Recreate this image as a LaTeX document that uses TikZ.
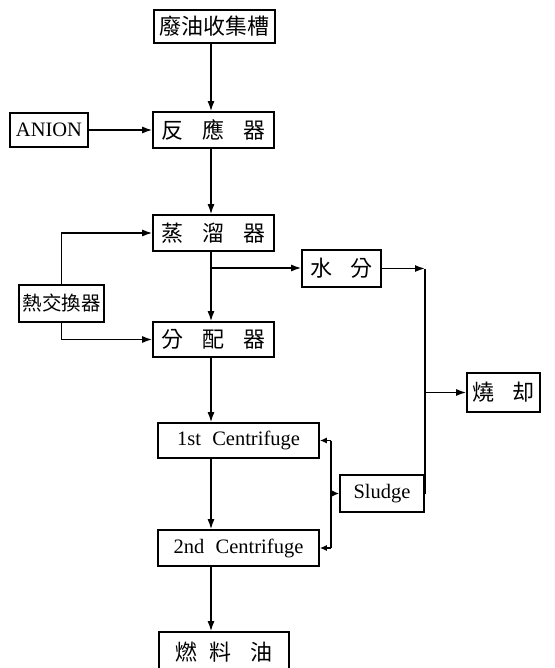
\documentclass[tikz,border=0pt]{standalone}
\usepackage{fontspec}
\setmainfont{Liberation Serif}
\newfontfamily\cjk{Noto Sans CJK TC}
\usetikzlibrary{arrows.meta}
\begin{document}
\begin{tikzpicture}[x=1pt,y=-1pt,
  box/.style={draw,line width=1.6pt,inner sep=0pt,font=\fontsize{20.5}{20.5}\selectfont},
  cj/.style={box,font=\cjk\fontsize{22}{22}\selectfont},
  conn/.style={line width=1.5pt},
  arr/.style={conn,-{Latex[length=10pt,width=7pt]}},
  sarr/.style={conn,-{Latex[length=7pt,width=6pt]}}]
\useasboundingbox (0,0) rectangle (554,668);
\def\sp{\hspace{0.85em}}
\node[cj,minimum width=121pt,minimum height=33pt] (waste) at (214.5,26.5) {廢油收集槽};
\node[box,minimum width=78pt,minimum height=34pt] (anion) at (49,130) {ANION};
\node[cj,minimum width=121pt,minimum height=36pt] (react) at (213.5,130) {反\sp 應\sp 器};
\node[cj,minimum width=121pt,minimum height=36pt] (dist) at (213.5,233) {蒸\sp 溜\sp 器};
\node[cj,minimum width=85pt,minimum height=37pt,font=\cjk\fontsize{19.5}{19.5}\selectfont] (heat) at (61.5,303.5) {熱交換器};
\node[cj,minimum width=79pt,minimum height=37pt] (water) at (341.5,268.5) {水\sp 分};
\node[cj,minimum width=121pt,minimum height=35pt] (distr) at (213.5,339.5) {分\sp 配\sp 器};
\node[cj,minimum width=73pt,minimum height=39pt] (burn) at (503.5,392.5) {燒\sp 却};
\node[box,minimum width=161pt,minimum height=35pt] (c1) at (238.5,440.5) {1st\hspace{0.3em} Centrifuge};
\node[box,minimum width=84pt,minimum height=37pt] (sludge) at (382,493.5) {Sludge};
\node[box,minimum width=161pt,minimum height=36pt] (c2) at (238.5,548) {2nd\hspace{0.3em} Centrifuge};
\node[cj,minimum width=130pt,minimum height=40pt] (fuel) at (224,652) {燃\hspace{0.55em}料\sp 油};
% helper coordinates
\coordinate (mx) at (211,0);
\coordinate (br) at (211,268);
\coordinate (rx) at (425,0);
\coordinate (sx) at (331,0);
% main line
\draw[arr] (waste.south -| mx) -- (react.north -| mx);
\draw[arr] (anion) -- (react);
\draw[arr] (react.south -| mx) -- (dist.north -| mx);
\draw[arr] (dist.south -| mx) -- (distr.north -| mx);
\draw[arr] (distr.south -| mx) -- (c1.north -| mx);
\draw[arr] (c1.south -| mx) -- (c2.north -| mx);
\draw[arr] (c2.south -| mx) -- (fuel.north -| mx);
% heat exchanger
\draw[arr] (heat.north) |- (dist.west);
\draw[arr] (heat.south) |- (distr.west);
% water branch
\draw[arr] (br) -- (water.west |- br);
\draw[arr] (water.east) -- (water.east -| rx);
\draw[conn] (water.east -| rx) -- (sludge.east -| rx) -- (sludge.east);
\draw[arr] (burn.west -| rx) -- (burn.west);
% sludge
\draw[conn] (c1.east -| sx) -- (c2.east -| sx);
\draw[sarr] (c1.east -| sx) -- (c1.east);
\draw[sarr] (c2.east -| sx) -- (c2.east);
\draw[sarr] (sludge.west -| sx) -- (sludge.west);
\end{tikzpicture}
\end{document}
